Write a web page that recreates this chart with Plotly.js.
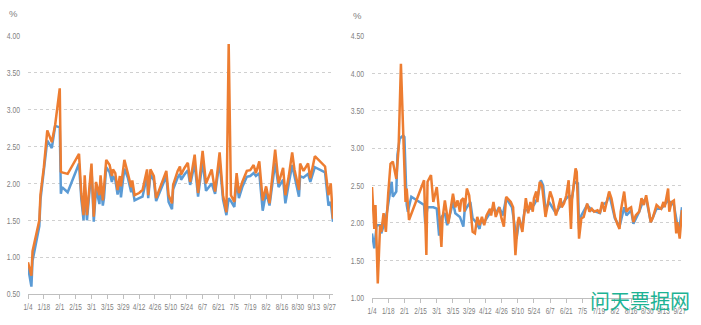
<!DOCTYPE html>
<html><head><meta charset="utf-8">
<script src="https://cdn.plot.ly/plotly-3.0.1.min.js"></script>
<style>html,body{margin:0;padding:0;background:#fff;}#chart{width:701px;height:325px;}</style>
</head><body><div id="chart"></div>
<script>
const YEAR = '2019-';
// Left chart
const leftDates = ['01-04','01-07','01-08','01-11','01-14','01-15','01-18','01-21','01-25','01-28','01-30','02-01','02-02','02-03','02-08','02-18','02-20','02-22','02-23','02-25','03-01','03-03','03-05','03-08','03-09','03-11','03-12','03-14','03-17','03-19','03-20','03-22','03-24','03-26','03-27','03-30','04-02','04-05','04-06','04-08','04-12','04-15','04-19','04-20','04-22','04-25','04-27','05-06','05-08','05-11','05-12','05-16','05-18','05-19','05-22','05-25','05-27','05-31','06-03','06-07','06-10','06-15','06-18','06-22','06-25','06-28','06-30','07-02','07-05','07-07','07-09','07-12','07-16','07-19','07-22','07-24','07-27','07-30','08-02','08-05','08-10','08-13','08-17','08-19','08-22','08-25','08-27','08-31','09-01','09-04','09-08','09-10','09-14','09-17','09-23','09-26','09-28','09-30'];
const leftOrange = [0.93,0.75,1.08,1.30,1.50,1.85,2.22,2.72,2.56,2.80,3.05,3.29,2.16,2.15,2.13,2.40,1.86,1.57,2.11,1.57,2.27,1.55,2.02,1.84,2.11,1.77,1.93,2.32,2.25,2.10,2.19,2.14,1.91,2.10,1.96,2.32,2.14,1.95,2.04,1.84,1.87,1.91,2.19,1.84,2.19,2.10,1.80,2.17,1.84,1.73,1.98,2.17,2.23,2.12,2.21,2.28,2.02,2.39,1.87,2.44,2.00,2.19,1.89,2.42,1.84,1.61,3.89,1.84,1.75,2.14,1.87,2.02,2.17,2.18,2.25,2.14,2.30,1.77,1.96,1.73,2.46,2.00,2.21,1.84,2.10,2.42,2.19,1.91,2.27,2.17,2.27,2.07,2.37,2.32,2.23,1.84,2.00,1.52];
const leftBlue = [0.87,0.60,0.95,1.20,1.42,1.78,2.15,2.58,2.48,2.78,2.77,2.76,1.86,1.95,1.88,2.27,1.79,1.50,1.97,1.50,2.20,1.48,1.93,1.72,2.02,1.70,1.80,2.22,2.15,2.02,2.10,2.05,1.85,2.02,1.81,2.20,2.08,1.88,1.95,1.77,1.80,1.82,2.10,1.80,2.12,2.04,1.76,2.10,1.75,1.65,1.92,2.08,2.13,2.05,2.12,2.18,1.98,2.27,1.82,2.30,1.90,2.00,1.86,2.30,1.78,1.57,1.80,1.76,1.68,2.05,1.80,1.95,2.09,2.10,2.14,2.10,2.14,1.63,1.88,1.70,2.28,1.95,2.05,1.73,2.00,2.25,2.10,1.82,2.10,2.08,2.13,2.02,2.22,2.20,2.15,1.70,1.75,1.48];
// Right chart
const rightOrangeDates = ['01-04','01-06','01-07','01-09','01-11','01-12','01-14','01-16','01-18','01-20','01-22','01-24','01-25','01-27','01-29','02-02','02-03','02-05','02-18','02-20','02-21','02-24','02-26','03-01','03-03','03-05','03-06','03-08','03-11','03-13','03-15','03-17','03-19','03-21','03-22','03-24','03-25','03-27','03-29','04-01','04-03','04-05','04-07','04-09','04-11','04-13','04-16','04-17','04-19','04-21','04-24','04-26','04-28','04-30','05-04','05-06','05-08','05-10','05-11','05-14','05-16','05-17','05-19','05-21','05-23','05-24','05-26','05-27','05-29','05-31','06-03','06-05','06-07','06-09','06-12','06-14','06-16','06-17','06-19','06-21','06-23','06-25','06-26','06-29','06-30','07-02','07-04','07-06','07-09','07-11','07-13','07-15','07-18','07-20','07-22','07-24','07-26','07-28','07-30','08-02','08-04','08-06','08-07','08-10','08-12','08-14','08-16','08-18','08-20','08-23','08-25','08-27','08-29','08-31','09-02','09-04','09-07','09-09','09-11','09-13','09-14','09-17','09-18','09-20','09-22','09-24','09-25','09-27','09-29'];
const rightOrange = [2.48,1.92,2.24,1.19,1.97,1.88,2.13,1.88,2.39,2.79,2.82,2.64,2.59,3.00,4.13,2.28,2.46,2.04,2.57,1.57,2.55,2.64,2.28,2.48,2.15,1.68,2.06,2.30,1.99,2.19,2.39,2.21,2.30,2.15,2.30,2.33,2.15,2.46,2.37,1.88,1.86,2.08,1.97,2.08,1.97,2.10,2.19,2.10,2.28,2.08,2.21,2.06,1.95,2.35,2.28,2.21,1.57,2.01,2.08,1.88,2.21,2.33,2.13,2.28,2.15,2.33,2.42,2.28,2.55,2.50,2.08,2.28,2.42,2.33,2.10,2.21,2.33,2.21,2.26,2.37,2.57,1.92,2.33,2.73,2.68,1.79,2.06,2.08,2.26,2.15,2.19,2.15,2.17,2.13,2.28,2.15,2.30,2.42,2.33,2.08,1.99,1.92,2.15,2.42,2.15,2.19,2.21,2.01,2.10,2.15,2.33,2.24,2.37,2.21,2.01,2.08,2.24,2.21,2.19,2.28,2.21,2.46,2.15,2.28,2.30,1.86,2.01,1.79,2.17];
const rightBlueDates = ['01-04','01-06','01-08','01-11','01-12','01-15','01-17','01-19','01-21','01-22','01-25','01-26','01-28','01-31','02-01','02-03','02-04','02-07','02-18','02-19','02-21','02-26','03-01','03-03','03-05','03-08','03-10','03-13','03-15','03-17','03-21','03-24','03-25','03-27','03-30','04-01','04-04','04-07','04-08','04-11','04-13','04-16','04-19','04-21','04-24','04-27','04-30','05-05','05-07','05-09','05-11','05-14','05-16','05-19','05-22','05-24','05-27','05-30','06-01','06-03','06-06','06-09','06-12','06-15','06-17','06-21','06-24','06-25','06-28','07-01','07-02','07-04','07-09','07-13','07-17','07-20','07-22','07-26','07-28','08-02','08-06','08-10','08-12','08-16','08-18','08-23','08-26','08-29','09-02','09-07','09-11','09-14','09-17','09-22','09-25','09-27','09-29'];
const rightBlue = [1.86,1.66,1.97,1.97,1.86,2.01,2.15,2.37,2.55,2.35,2.42,2.91,3.13,3.17,3.15,2.24,2.15,2.35,2.24,1.99,2.21,2.21,2.19,1.83,2.08,2.13,1.97,2.15,2.28,2.13,2.08,1.95,2.15,2.21,2.28,2.06,2.01,1.92,2.01,2.01,2.06,2.13,2.21,2.13,2.21,2.10,2.33,2.21,1.97,1.79,2.01,1.97,2.17,2.17,2.21,2.24,2.33,2.57,2.50,2.17,2.28,2.21,2.13,2.21,2.24,2.33,2.37,2.24,2.55,2.53,1.92,2.10,2.24,2.17,2.15,2.13,2.24,2.28,2.39,2.06,1.95,2.21,2.10,2.17,1.99,2.15,2.28,2.33,2.01,2.19,2.19,2.24,2.30,2.24,1.97,1.95,2.21];
// Axis ticks
const tickDates = ['01-04','01-18','02-01','02-15','03-01','03-15','03-29','04-12','04-26','05-10','05-24','06-07','06-21','07-05','07-19','08-02','08-16','08-30','09-13','09-27'];
const tickLabels = ['1/4','1/18','2/1','2/15','3/1','3/15','3/29','4/12','4/26','5/10','5/24','6/7','6/21','7/5','7/19','8/2','8/16','8/30','9/13','9/27'];
const leftYTicks = [0.5,1.0,1.5,2.0,2.5,3.0,3.5,4.0];
const rightYTicks = [1.0,1.5,2.0,2.5,3.0,3.5,4.0,4.5];

const d = a => a.map(s => YEAR + s);
const BLUE = '#5B9BD5', ORANGE = '#ED7D31';
const W = 701, H = 325;
const FONT = {family: 'Liberation Sans, sans-serif', size: 9.5, color: '#7F7F7F'};
const XFONT = {family: 'Liberation Sans, sans-serif', size: 9, color: '#7F7F7F'};

const traces = [
  {x: d(leftDates), y: leftBlue, type: 'scatter', mode: 'lines', line: {color: BLUE, width: 2.5}, xaxis: 'x', yaxis: 'y', hoverinfo: 'skip'},
  {x: d(leftDates), y: leftOrange, type: 'scatter', mode: 'lines', line: {color: ORANGE, width: 2.5}, xaxis: 'x', yaxis: 'y', hoverinfo: 'skip'},
  {x: d(rightBlueDates), y: rightBlue, type: 'scatter', mode: 'lines', line: {color: BLUE, width: 2.5}, xaxis: 'x2', yaxis: 'y2', hoverinfo: 'skip'},
  {x: d(rightOrangeDates), y: rightOrange, type: 'scatter', mode: 'lines', line: {color: ORANGE, width: 2.5}, xaxis: 'x2', yaxis: 'y2', hoverinfo: 'skip'}
];

function xAxis(dom, rng, anchor) {
  return {type: 'date', domain: dom, range: rng, anchor: anchor,
    tickmode: 'array', tickvals: d(tickDates), ticktext: tickLabels, tickangle: 0,
    ticks: 'outside', ticklen: 4, tickcolor: '#BFBFBF', showgrid: false,
    showline: true, linecolor: '#BFBFBF', linewidth: 1, zeroline: false,
    tickfont: XFONT, fixedrange: true, automargin: false};
}
function yAxis(dom, rng, vals, anchor) {
  return {domain: dom, range: rng, anchor: anchor, tickmode: 'array', tickvals: vals,
    ticktext: vals.map(v => v.toFixed(2)), showgrid: true, gridcolor: '#D0D0D0', griddash: 'dot',
    gridwidth: 1, zeroline: false, showline: false, ticks: '', ticklabelstandoff: 7,
    tickfont: FONT, fixedrange: true, automargin: false};
}

const layout = {
  width: W, height: H, margin: {l: 0, r: 0, t: 0, b: 0},
  paper_bgcolor: '#fff', plot_bgcolor: '#fff', showlegend: false,
  xaxis: xAxis([28/W, 333/W], ['2019-01-04', '2019-09-30'], 'y'),
  yaxis: yAxis([(H-294)/H, (H-36)/H], [0.5, 4.0], leftYTicks, 'x'),
  xaxis2: xAxis([372/W, 682/W], ['2019-01-04', '2019-09-29'], 'y2'),
  yaxis2: yAxis([(H-297.7)/H, (H-36)/H], [1.0, 4.5], rightYTicks, 'x2'),
  annotations: [
    {text: '%', x: 13/W, y: (H-13)/H, xref: 'paper', yref: 'paper', showarrow: false, xanchor: 'center', yanchor: 'middle', font: FONT},
    {text: '%', x: 357/W, y: (H-16)/H, xref: 'paper', yref: 'paper', showarrow: false, xanchor: 'center', yanchor: 'middle', font: FONT},
    {text: '问天票据网', x: 640/W, y: (H-300)/H, xref: 'paper', yref: 'paper', showarrow: false, xanchor: 'center', yanchor: 'middle',
     font: {family: 'Noto Sans CJK SC, sans-serif', size: 20, color: '#1DB394'}}
  ]
};
Plotly.newPlot('chart', traces, layout, {staticPlot: true, displayModeBar: false}).then(gd => {
  // condense tick label glyphs (the reference uses a narrow face)
  gd.querySelectorAll('.xtick text, .x2tick text, .ytick text, .y2tick text').forEach(t => {
    const L = t.getComputedTextLength();
    t.setAttribute('textLength', (L * 0.72).toFixed(1));
    t.setAttribute('lengthAdjust', 'spacingAndGlyphs');
  });
});
</script></body></html>
